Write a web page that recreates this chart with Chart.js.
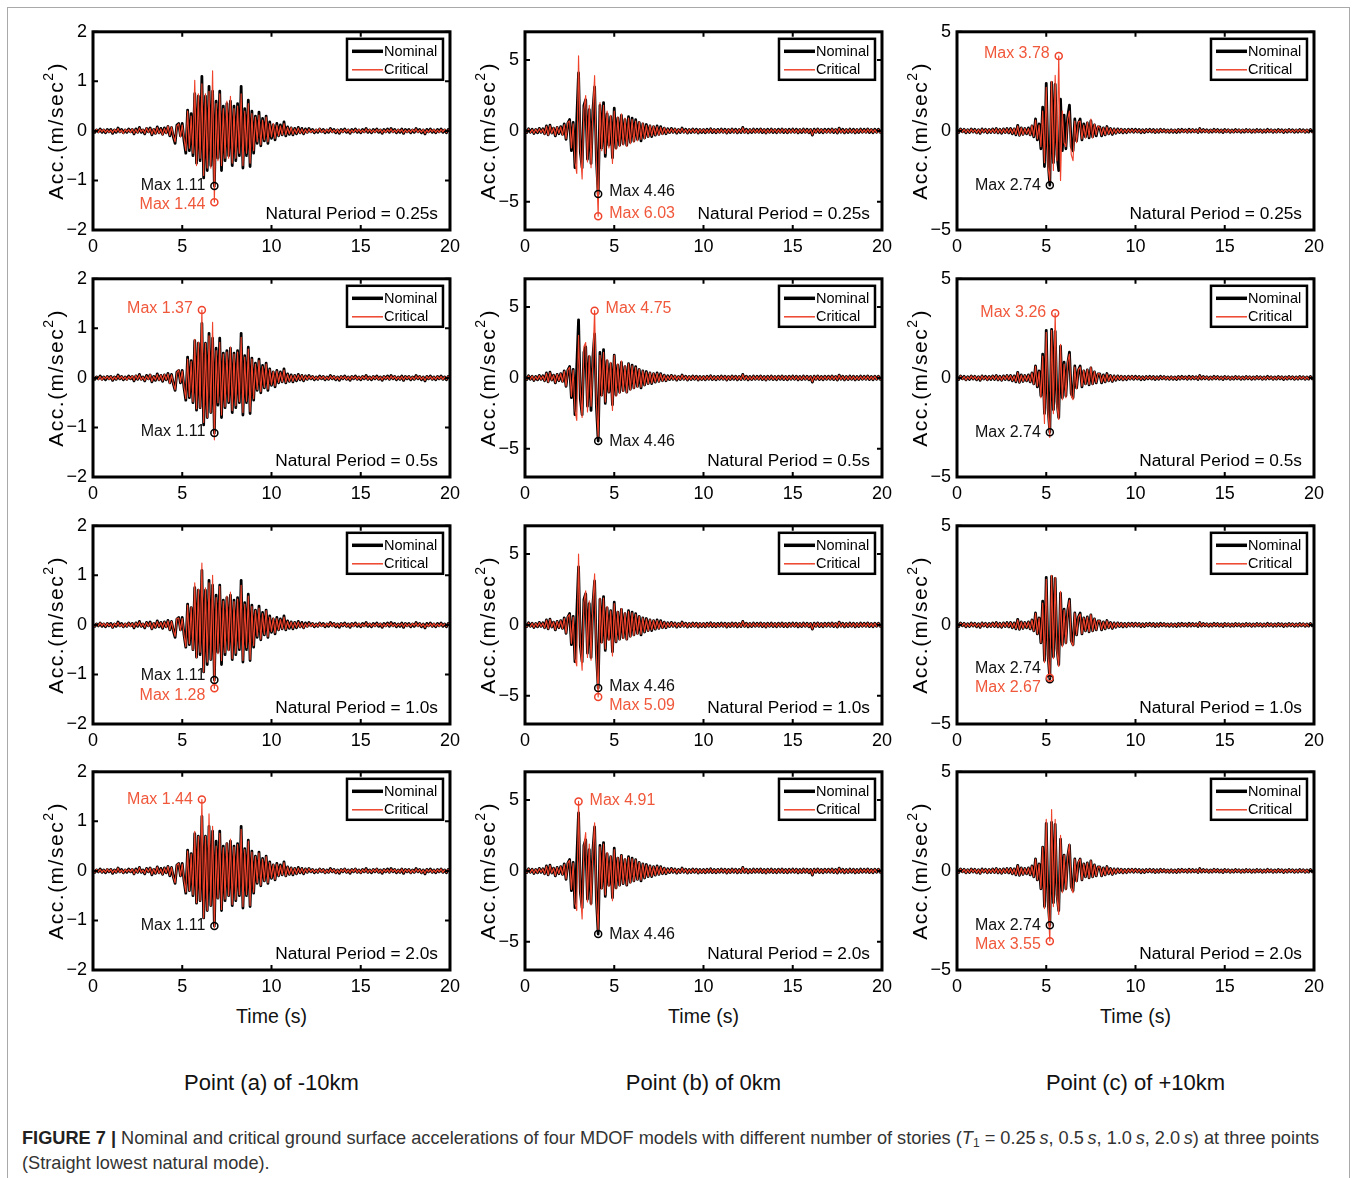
<!DOCTYPE html>
<html>
<head>
<meta charset="utf-8">
<script src="https://cdn.jsdelivr.net/npm/chart.js@4.4.1/dist/chart.umd.min.js"></script>
<style>
  html, body { margin: 0; padding: 0; background: #fff; }
  body { width: 1357px; height: 1178px; position: relative; overflow: hidden;
         font-family: 'Liberation Sans', Arial, sans-serif; color: #111; }
  .frame { position: absolute; left: 7px; top: 7px; width: 1341px; height: 1200px; border: 1px solid #a9a9a9; }
  canvas.panel { position: absolute; }
  .xl { position: absolute; font-size: 19.5px; line-height: 24px; transform: translateX(-50%); white-space: nowrap; }
  .ct { position: absolute; font-size: 22px; line-height: 26px; transform: translateX(-50%); white-space: nowrap; }
  .cap { position: absolute; left: 22px; top: 1126px; font-size: 18.2px; line-height: 25px; color: #333; white-space: nowrap; }
  .cap b { color: #222; }
  .cap sub { font-size: 12px; line-height: 0; vertical-align: -3px; }
</style>
</head>
<body>
<div class="frame"></div>
<div id="root"></div>
<script>
// ------- data (sample step 0.1 s) -------
const DT = 0.1;
const timeTicks = [0, 5, 10, 15, 20];
const accTicks = [[-2, -1, 0, 1, 2], [-5, 0, 5], [-5, 0, 5]];
const accRange = [[-2, 2], [-7, 7], [-5, 5]];
const periods = ['0.25s', '0.5s', '1.0s', '2.0s'];
const points = ['Point (a) of -10km', 'Point (b) of 0km', 'Point (c) of +10km'];

// point (a), nominal
const NOM_A = [
 .01,-.03,.02,-.02,.04,-.03,.02,-.04,.03,-.02,
 .03,-.05,.02,-.03,.06,-.02,.03,-.04,.02,-.03,
 .04,-.02,.03,-.06,.04,-.03,.07,-.03,.02,-.06,
 .05,-.02,.06,-.08,.03,-.05,.08,-.04,.05,-.07,
 .06,-.04,.09,-.1,.07,-.12,-.25,.12,.15,-.1,
 .15,-.2,-.45,.42,-.4,.35,-.5,.75,-.65,.7,
 -.6,1.1,-.95,.7,-.8,.9,-.7,.8,-1.11,.6,
 -.55,.8,-.8,.5,-.6,.55,-.5,.6,-.7,.5,
 -.6,.55,-.5,.9,-.75,.45,-.5,.62,-.72,.4,
 -.45,.3,-.25,.38,-.3,.25,-.2,.3,-.25,.18,
 -.15,.12,-.18,.15,-.1,.12,-.08,.18,-.1,.08,
 -.07,.06,-.08,.05,-.06,.07,-.04,.05,-.06,.04,
 -.03,.05,-.02,.03,-.04,.02,-.03,.04,-.02,.03,
 -.04,.02,-.03,.05,-.02,.03,-.04,.02,-.05,.03,
 -.02,.04,-.03,.02,-.05,.03,-.02,.04,-.03,.02,
 -.04,.03,-.02,.05,-.03,.02,-.04,.03,-.02,.04,
 -.03,.02,-.05,.03,-.02,.04,-.03,.05,-.02,.03,
 -.04,.02,-.03,.04,-.05,.03,-.02,.03,-.04,.02,
 -.03,.05,-.02,.03,-.04,.02,-.06,.03,-.02,.04,
 -.03,.02,-.04,.03,-.02,.04,-.03,.02,-.04,.03,
 .01];

// point (a), critical, T1 = 0.25 / 0.5 / 1.0 / 2.0 s
const CRIT_A1 = [
 .02,-.02,.03,-.03,.03,-.02,.03,-.03,.02,-.03,
 .02,-.04,.03,-.02,.05,-.03,.02,-.05,.03,-.02,
 .03,-.03,.04,-.05,.03,-.04,.06,-.02,.03,-.05,
 .06,-.03,.05,-.07,.04,-.06,.07,-.05,.04,-.08,
 .05,-.05,.1,-.09,.08,-.1,-.22,.1,.14,-.12,
 .12,-.15,-.4,.4,-.35,.3,-.45,1.02,-.7,.75,
 -.55,.95,-.9,.75,-.75,.8,-.75,1.21,-1.44,.55,
 -.6,.75,-.7,.45,-.55,.6,-.55,.7,-.65,.45,
 -.55,.5,-.45,.75,-.7,.4,-.45,.55,-.65,.35,
 -.4,.28,-.22,.32,-.28,.22,-.18,.28,-.22,.15,
 -.12,.15,-.15,.12,-.1,.1,-.08,.15,-.08,.07,
 -.06,.07,-.07,.04,-.05,.06,-.05,.04,-.05,.03,
 -.04,.04,-.03,.02,-.03,.03,-.02,.05,-.03,.02,
 -.03,.03,-.02,.04,-.03,.02,-.03,.03,-.04,.02,
 -.03,.03,-.02,.03,-.04,.02,-.03,.03,-.02,.03,
 -.03,.02,-.03,.04,-.02,.03,-.03,.02,-.03,.03,
 -.02,.03,-.04,.02,-.03,.03,-.02,.04,-.03,.02,
 -.03,.03,-.02,.03,-.04,.02,-.03,.02,-.03,.03,
 -.02,.04,-.03,.02,-.03,.03,-.05,.02,-.03,.03,
 -.02,.03,-.03,.02,-.03,.03,-.02,.03,-.03,.02,
 .01];
const CRIT_A2 = [
 .01,-.02,.02,-.03,.03,-.04,.02,-.02,.03,-.03,
 .03,-.04,.02,-.03,.05,-.02,.03,-.03,.02,-.04,
 .03,-.02,.04,-.05,.05,-.03,.06,-.04,.02,-.05,
 .04,-.03,.07,-.07,.03,-.04,.07,-.05,.06,-.06,
 .07,-.04,.08,-.11,.06,-.11,-.24,.11,.16,-.09,
 .14,-.18,-.42,.38,-.38,.33,-.48,.78,-.62,.72,
 -.6,1.37,-.9,.7,-.8,.85,-.7,1.12,-1.25,.55,
 -.5,.72,-.75,.48,-.58,.52,-.48,.62,-.66,.48,
 -.56,.52,-.48,.82,-.7,.42,-.47,.58,-.68,.38,
 -.42,.28,-.24,.35,-.28,.23,-.19,.28,-.23,.17,
 -.14,.13,-.16,.14,-.09,.11,-.08,.16,-.09,.07,
 -.07,.05,-.07,.05,-.05,.06,-.04,.05,-.05,.04,
 -.03,.04,-.02,.03,-.03,.02,-.03,.03,-.02,.03,
 -.03,.02,-.03,.04,-.02,.03,-.03,.02,-.04,.03,
 -.02,.03,-.03,.02,-.04,.03,-.02,.03,-.03,.02,
 -.03,.03,-.02,.04,-.03,.02,-.03,.03,-.02,.03,
 -.03,.02,-.04,.03,-.02,.03,-.03,.04,-.02,.03,
 -.03,.02,-.03,.03,-.04,.03,-.02,.03,-.03,.02,
 -.03,.04,-.02,.03,-.03,.02,-.05,.03,-.02,.03,
 -.03,.02,-.03,.03,-.02,.03,-.03,.02,-.03,.03,
 .01];
const CRIT_A3 = [
 .02,-.03,.02,-.02,.04,-.02,.03,-.03,.03,-.02,
 .02,-.05,.03,-.02,.05,-.03,.02,-.04,.03,-.03,
 .04,-.03,.03,-.05,.04,-.02,.06,-.03,.03,-.05,
 .05,-.03,.05,-.08,.04,-.05,.07,-.04,.05,-.06,
 .06,-.05,.08,-.1,.07,-.1,-.23,.13,.14,-.11,
 .13,-.2,-.44,.4,-.38,.36,-.5,.85,-.66,.72,
 -.55,1.25,-.95,.75,-.75,.85,-.7,1.0,-1.28,.55,
 -.58,.78,-.72,.48,-.56,.58,-.52,.66,-.68,.47,
 -.57,.52,-.47,.8,-.72,.42,-.46,.58,-.7,.37,
 -.42,.29,-.23,.34,-.29,.23,-.19,.29,-.24,.16,
 -.13,.14,-.16,.13,-.1,.11,-.08,.16,-.09,.07,
 -.06,.06,-.07,.05,-.05,.06,-.05,.04,-.06,.03,
 -.04,.04,-.03,.03,-.03,.02,-.03,.04,-.03,.02,
 -.03,.03,-.02,.04,-.03,.03,-.03,.02,-.04,.03,
 -.02,.03,-.03,.02,-.04,.03,-.03,.03,-.02,.03,
 -.03,.02,-.03,.04,-.02,.03,-.03,.02,-.03,.03,
 -.02,.03,-.04,.02,-.03,.03,-.02,.04,-.03,.02,
 -.03,.02,-.02,.03,-.04,.03,-.03,.02,-.03,.03,
 -.02,.04,-.03,.03,-.03,.02,-.05,.02,-.03,.03,
 -.03,.03,-.03,.02,-.03,.03,-.02,.02,-.03,.02,
 .01];
const CRIT_A4 = [
 .01,-.03,.03,-.02,.03,-.03,.02,-.03,.04,-.02,
 .03,-.04,.02,-.03,.06,-.03,.02,-.04,.03,-.02,
 .03,-.02,.04,-.06,.03,-.03,.07,-.03,.02,-.05,
 .05,-.02,.06,-.07,.04,-.05,.08,-.05,.04,-.07,
 .06,-.04,.09,-.09,.07,-.12,-.24,.12,.15,-.1,
 .14,-.19,-.43,.4,-.4,.34,-.48,.8,-.64,.7,
 -.6,1.44,-.95,.7,-.8,1.15,-.7,.9,-1.15,.5,
 -.55,.76,-.78,.47,-.57,.56,-.5,.64,-.68,.48,
 -.58,.53,-.48,.84,-.72,.43,-.48,.6,-.7,.38,
 -.43,.29,-.24,.36,-.29,.24,-.2,.29,-.24,.17,
 -.14,.13,-.17,.14,-.1,.11,-.08,.17,-.1,.08,
 -.07,.06,-.07,.05,-.06,.06,-.04,.05,-.05,.04,
 -.03,.05,-.02,.03,-.03,.02,-.03,.04,-.02,.03,
 -.04,.02,-.03,.04,-.02,.03,-.04,.02,-.04,.03,
 -.02,.04,-.03,.02,-.04,.03,-.02,.04,-.03,.02,
 -.04,.03,-.02,.04,-.03,.02,-.03,.03,-.02,.04,
 -.03,.02,-.04,.03,-.02,.03,-.03,.04,-.02,.03,
 -.03,.02,-.03,.04,-.04,.03,-.02,.03,-.04,.02,
 -.03,.04,-.02,.03,-.04,.02,-.05,.03,-.02,.03,
 -.03,.02,-.03,.03,-.02,.04,-.03,.02,-.03,.03,
 .01];

// point (b), nominal
const NOM_B = [
 .08,-.12,.15,-.1,.12,-.18,.1,-.14,.18,-.1,
 .15,-.2,.35,-.28,.4,-.15,.2,-.35,.25,-.2,
 .3,-.25,.5,-.6,.55,.8,-1.4,.6,-2.6,.8,
 4.1,-1.5,-2.6,1.8,2.2,-2,1.5,-2.3,1.4,3.1,
 -2,-4.46,1.8,-1.2,2,-1.8,1.2,-1,1,-1.9,
 1.6,-1.2,.9,-1,1.1,-.9,.8,-1,1,-.8,
 .9,-.7,.8,-.6,.6,-.7,.5,-.5,.45,-.4,
 .35,-.4,.3,-.3,.35,-.25,.3,-.2,.2,-.2,
 .15,-.12,.18,-.1,.14,-.16,.1,-.12,.2,-.1,
 .12,-.15,.1,-.12,.14,-.1,.12,-.15,.1,-.12,
 .1,-.14,.12,-.1,.15,-.12,.1,-.13,.11,-.1,
 .13,-.1,.12,-.15,.1,-.12,.14,-.1,.12,-.14,
 .1,-.12,.25,-.1,.12,-.14,.1,-.12,.13,-.1,
 .12,-.1,.14,-.12,.1,-.15,.12,-.1,.13,-.12,
 .1,-.13,.12,-.1,.14,-.12,.1,-.14,.12,-.1,
 .13,-.1,.12,-.14,.1,-.12,.13,-.1,.12,-.13,
 .1,-.3,.12,-.1,.14,-.12,.1,-.13,.12,-.1,
 .12,-.1,.14,-.12,.1,-.15,.2,-.1,.12,-.14,
 .1,-.12,.13,-.1,.12,-.14,.1,-.12,.13,-.1,
 .12,-.1,.14,-.12,.1,-.13,.12,-.1,.12,-.1,
 .05];

// point (b), critical
const CRIT_B1 = [
 .1,-.1,.14,-.12,.1,-.16,.12,-.12,.16,-.12,
 .13,-.22,.32,-.3,.38,-.18,.22,-.32,.28,-.18,
 .28,-.3,.45,-.55,.6,.7,-1.2,.5,-2.2,-3,
 5.3,-1.2,-3.4,1.5,2.5,-2.2,1.8,-2.6,1.2,3.9,
 -2.2,-6.03,2,-1.4,1.8,-1.6,1.4,-1.2,1.1,-2.3,
 1.4,-1.3,1,-1.1,1.2,-1,.9,-1.1,.9,-.9,
 .8,-.8,.7,-.7,.65,-.6,.55,-.55,.4,-.45,
 .4,-.35,.35,-.3,.3,-.3,.25,-.25,.22,-.18,
 .14,-.14,.16,-.12,.15,-.14,.12,-.1,.18,-.12,
 .1,-.14,.12,-.1,.13,-.12,.1,-.14,.12,-.1,
 .12,-.12,.1,-.12,.14,-.1,.12,-.12,.1,-.12,
 .12,-.12,.1,-.14,.12,-.1,.13,-.12,.1,-.13,
 .12,-.1,.22,-.12,.1,-.13,.12,-.1,.12,-.12,
 .1,-.12,.13,-.1,.12,-.14,.1,-.12,.12,-.1,
 .12,-.12,.1,-.12,.13,-.1,.12,-.13,.1,-.12,
 .12,-.12,.1,-.13,.12,-.1,.12,-.12,.1,-.12,
 .12,-.28,.1,-.12,.13,-.1,.12,-.12,.1,-.12,
 .1,-.12,.13,-.1,.12,-.14,.18,-.12,.1,-.13,
 .12,-.1,.12,-.12,.1,-.13,.12,-.1,.12,-.12,
 .1,-.12,.13,-.1,.12,-.12,.1,-.12,.1,-.12,
 .04];
const CRIT_B2 = [
 .1,-.12,.14,-.1,.13,-.16,.1,-.13,.17,-.12,
 .14,-.2,.33,-.3,.38,-.16,.2,-.33,.26,-.2,
 .3,-.28,.48,-.58,.56,.75,-1.3,.55,-2.3,-3,
 3,-1,-2.8,2.2,2.5,-2.4,1.6,-2,1,4.75,
 -1.8,-4.2,1.6,-1.3,1.8,-1.7,1.3,-1,1.1,-2.3,
 1.6,-1.3,1,-1.1,1.2,-.95,.85,-1.05,1,-.85,
 .85,-.75,.75,-.65,.62,-.65,.5,-.52,.42,-.42,
 .38,-.38,.32,-.3,.32,-.28,.28,-.22,.2,-.2,
 .14,-.13,.17,-.11,.15,-.15,.11,-.12,.19,-.11,
 .11,-.14,.11,-.12,.13,-.11,.12,-.14,.1,-.12,
 .11,-.13,.12,-.11,.14,-.12,.1,-.12,.11,-.11,
 .12,-.11,.12,-.14,.11,-.12,.13,-.1,.12,-.13,
 .11,-.12,.23,-.11,.12,-.13,.1,-.12,.12,-.11,
 .11,-.11,.13,-.12,.1,-.14,.12,-.11,.12,-.12,
 .11,-.12,.12,-.1,.13,-.12,.11,-.13,.12,-.11,
 .12,-.11,.12,-.13,.1,-.12,.12,-.11,.12,-.12,
 .11,-.27,.12,-.11,.13,-.12,.1,-.12,.12,-.11,
 .11,-.11,.13,-.12,.11,-.14,.19,-.11,.12,-.13,
 .11,-.12,.12,-.11,.12,-.13,.1,-.12,.12,-.11,
 .11,-.11,.13,-.12,.1,-.12,.12,-.11,.11,-.11,
 .04];
const CRIT_B3 = [
 .09,-.13,.14,-.11,.12,-.17,.11,-.13,.17,-.11,
 .14,-.21,.34,-.29,.39,-.16,.21,-.34,.26,-.19,
 .3,-.26,.46,-.58,.58,.72,-1.3,.55,-2.4,-2.9,
 5,-1.3,-3.2,1.6,2.4,-2.3,1.7,-2.5,1.3,3.6,
 -2.1,-5.09,1.9,-1.3,1.9,-1.7,1.3,-1.1,1,-2.2,
 1.5,-1.2,.95,-1.05,1.15,-.95,.85,-1.05,.95,-.85,
 .85,-.75,.75,-.65,.6,-.65,.5,-.5,.42,-.42,
 .38,-.36,.32,-.3,.32,-.27,.27,-.22,.2,-.19,
 .15,-.13,.17,-.11,.14,-.15,.11,-.11,.19,-.11,
 .11,-.14,.11,-.11,.13,-.11,.11,-.14,.11,-.11,
 .11,-.13,.11,-.11,.14,-.11,.11,-.13,.1,-.11,
 .12,-.11,.11,-.14,.11,-.11,.13,-.11,.11,-.13,
 .11,-.11,.24,-.11,.11,-.13,.11,-.11,.12,-.11,
 .11,-.11,.13,-.11,.11,-.14,.11,-.11,.12,-.11,
 .11,-.12,.11,-.11,.13,-.11,.11,-.13,.11,-.11,
 .12,-.11,.11,-.13,.11,-.11,.12,-.11,.11,-.12,
 .11,-.29,.11,-.11,.13,-.11,.11,-.12,.11,-.11,
 .11,-.11,.13,-.11,.11,-.14,.19,-.11,.11,-.13,
 .11,-.11,.12,-.11,.11,-.13,.11,-.11,.12,-.11,
 .11,-.11,.13,-.11,.11,-.12,.11,-.11,.11,-.11,
 .04];
const CRIT_B4 = [
 .09,-.12,.15,-.11,.12,-.16,.11,-.14,.17,-.1,
 .15,-.21,.33,-.28,.39,-.16,.2,-.34,.25,-.2,
 .3,-.27,.47,-.56,.57,.74,-1.3,.56,-2.3,-2.8,
 4.91,-1.4,-3.4,1.7,2.7,-2.2,1.9,-2.4,1.2,3.4,
 -2,-4.2,1.7,-1.3,1.9,-1.7,1.3,-1.1,1.05,-2.1,
 1.5,-1.25,.95,-1.05,1.1,-.9,.85,-1,.95,-.85,
 .85,-.72,.78,-.62,.6,-.66,.5,-.5,.42,-.4,
 .36,-.38,.3,-.3,.33,-.26,.28,-.2,.2,-.18,
 .14,-.12,.17,-.1,.14,-.15,.1,-.12,.19,-.1,
 .12,-.14,.1,-.12,.13,-.1,.12,-.14,.1,-.12,
 .1,-.13,.12,-.1,.14,-.12,.1,-.12,.11,-.1,
 .12,-.1,.12,-.14,.1,-.12,.13,-.1,.12,-.13,
 .1,-.12,.24,-.1,.12,-.13,.1,-.12,.12,-.1,
 .12,-.1,.13,-.12,.1,-.14,.12,-.1,.12,-.12,
 .1,-.12,.12,-.1,.13,-.12,.1,-.13,.12,-.1,
 .12,-.1,.12,-.13,.1,-.12,.12,-.1,.12,-.12,
 .1,-.28,.12,-.1,.13,-.12,.1,-.12,.12,-.1,
 .12,-.1,.13,-.12,.1,-.14,.19,-.1,.12,-.13,
 .1,-.12,.12,-.1,.12,-.13,.1,-.12,.12,-.1,
 .12,-.1,.13,-.12,.1,-.12,.12,-.1,.12,-.1,
 .04];

// point (c), nominal
const NOM_C = [
 .05,-.08,.1,-.05,.08,-.1,.06,-.08,.1,-.06,
 .08,-.1,.06,-.12,.1,-.06,.08,-.1,.07,-.08,
 .1,-.08,.12,-.1,.08,-.12,.1,-.08,.12,-.1,
 .12,-.15,.1,-.2,.28,-.22,.15,-.18,.12,-.15,
 .15,-.2,.25,-.3,.6,-.45,.35,-.9,1.2,-1.8,
 2.4,-1.5,-2.74,2.45,-1.6,2.35,-1.2,-2,1.6,-1,
 .8,-.9,.7,1.3,-.8,-1,.6,-.5,.4,.6,
 -.45,.35,-.3,.4,-.35,.5,-.3,.3,-.25,.2,
 .2,-.25,.15,-.2,.22,-.15,.12,-.18,.1,-.12,
 .1,-.08,.09,-.1,.07,-.09,.08,-.06,.09,-.07,
 .08,-.06,.07,-.09,.06,-.08,.07,-.05,.08,-.06,
 .07,-.08,.06,-.07,.08,-.05,.07,-.06,.05,-.07,
 .06,-.07,.05,-.08,.07,-.06,.08,-.05,.06,-.07,
 .08,-.06,.07,-.05,.06,-.08,.12,-.06,.07,-.05,
 .06,-.07,.05,-.06,.08,-.05,.07,-.06,.05,-.08,
 .07,-.05,.06,-.07,.05,-.06,.07,-.05,.06,-.07,
 .05,-.06,.07,-.05,.06,-.07,.05,-.06,.07,-.05,
 .06,-.07,.05,-.06,.08,-.05,.06,-.07,.05,-.06,
 .07,-.05,.06,-.08,.05,-.06,.07,-.05,.06,-.07,
 .05,-.06,.07,-.05,.06,-.07,.05,-.06,.07,-.05,
 .03];

// point (c), critical
const CRIT_C1 = [
 .06,-.07,.09,-.06,.08,-.09,.07,-.08,.09,-.07,
 .07,-.1,.07,-.11,.09,-.07,.08,-.09,.08,-.08,
 .09,-.09,.11,-.1,.09,-.11,.1,-.09,.11,-.1,
 .11,-.14,.12,-.18,.25,-.24,.16,-.2,.13,-.14,
 .12,-.22,.28,-.28,.55,-.4,.3,-.8,1,-1.6,
 2.2,-1.8,-2.5,2.5,-2,2.8,-1.5,3.78,-2.5,1,
 -.6,-.8,.6,1,-1.2,-1.5,.5,-.6,.45,.5,
 -.4,.3,-.35,.45,-.3,.6,-.35,.35,-.2,.25,
 .18,-.22,.16,-.2,.2,-.16,.12,-.16,.1,-.12,
 .09,-.08,.1,-.09,.07,-.08,.08,-.07,.08,-.07,
 .07,-.07,.06,-.08,.06,-.07,.07,-.05,.07,-.06,
 .06,-.08,.07,-.06,.08,-.05,.06,-.07,.05,-.06,
 .05,-.06,.06,-.07,.07,-.05,.07,-.06,.06,-.08,
 .07,-.05,.08,-.06,.05,-.07,.11,-.05,.06,-.06,
 .05,-.08,.06,-.05,.07,-.06,.06,-.07,.06,-.07,
 .06,-.06,.07,-.06,.05,-.07,.06,-.05,.07,-.06,
 .06,-.05,.06,-.06,.07,-.06,.05,-.07,.06,-.05,
 .05,-.07,.06,-.05,.07,-.06,.06,-.06,.05,-.07,
 .06,-.06,.05,-.07,.06,-.05,.07,-.06,.05,-.06,
 .07,-.05,.06,-.06,.05,-.07,.06,-.05,.06,-.06,
 .02];
const CRIT_C2 = [
 .05,-.07,.1,-.06,.07,-.1,.06,-.07,.1,-.06,
 .08,-.09,.06,-.11,.1,-.07,.07,-.1,.07,-.07,
 .1,-.08,.11,-.1,.08,-.12,.09,-.08,.12,-.09,
 .12,-.14,.1,-.19,.27,-.23,.14,-.18,.13,-.15,
 .14,-.2,.26,-.32,.58,-.42,.32,-1,1.1,-2.3,
 2.3,-1.7,-3,2.4,-1.8,3.26,-1.4,-2.1,1.7,-1.1,
 .7,-1,.8,1.2,-.9,-1.1,.55,-.55,.42,.55,
 -.42,.38,-.32,.42,-.33,.55,-.32,.32,-.24,.22,
 .2,-.23,.14,-.2,.2,-.16,.12,-.17,.1,-.11,
 .1,-.08,.09,-.1,.07,-.08,.08,-.07,.09,-.07,
 .07,-.06,.07,-.08,.06,-.07,.07,-.05,.07,-.06,
 .07,-.07,.06,-.07,.07,-.05,.07,-.06,.05,-.07,
 .06,-.06,.05,-.07,.07,-.06,.07,-.05,.06,-.07,
 .07,-.06,.07,-.05,.06,-.07,.11,-.06,.07,-.05,
 .06,-.07,.05,-.06,.07,-.05,.07,-.06,.05,-.07,
 .07,-.05,.06,-.07,.05,-.06,.07,-.05,.06,-.06,
 .05,-.06,.07,-.05,.06,-.06,.05,-.06,.07,-.05,
 .06,-.07,.05,-.06,.07,-.05,.06,-.07,.05,-.06,
 .07,-.05,.06,-.07,.05,-.06,.07,-.05,.06,-.07,
 .05,-.06,.07,-.05,.06,-.07,.05,-.06,.06,-.05,
 .03];
const CRIT_C3 = [
 .06,-.08,.09,-.05,.08,-.09,.06,-.08,.09,-.06,
 .08,-.09,.06,-.11,.1,-.06,.08,-.09,.07,-.08,
 .09,-.08,.11,-.1,.08,-.11,.1,-.08,.11,-.1,
 .12,-.14,.1,-.19,.26,-.22,.15,-.18,.12,-.14,
 .15,-.2,.25,-.3,.58,-.45,.35,-.9,1.1,-1.9,
 2.3,-1.6,-2.67,2.5,-1.7,2.4,-1.3,-2.1,1.7,-1.1,
 .75,-.95,.7,1.25,-.85,-1.05,.6,-.5,.4,.55,
 -.44,.36,-.3,.4,-.34,.52,-.3,.31,-.25,.21,
 .2,-.24,.15,-.2,.21,-.15,.12,-.17,.1,-.12,
 .1,-.08,.09,-.09,.07,-.09,.08,-.06,.08,-.07,
 .08,-.06,.07,-.08,.06,-.08,.07,-.05,.07,-.06,
 .07,-.07,.06,-.07,.07,-.05,.07,-.06,.05,-.06,
 .06,-.07,.05,-.07,.07,-.06,.07,-.05,.06,-.07,
 .07,-.06,.07,-.05,.06,-.07,.12,-.06,.06,-.05,
 .06,-.06,.05,-.06,.07,-.05,.07,-.06,.05,-.07,
 .07,-.05,.06,-.06,.05,-.06,.07,-.05,.06,-.07,
 .05,-.06,.06,-.05,.06,-.07,.05,-.06,.06,-.05,
 .06,-.06,.05,-.06,.07,-.05,.06,-.06,.05,-.06,
 .06,-.05,.06,-.07,.05,-.06,.06,-.05,.06,-.06,
 .05,-.06,.06,-.05,.06,-.06,.05,-.06,.06,-.05,
 .03];
const CRIT_C4 = [
 .05,-.07,.1,-.06,.08,-.1,.07,-.08,.1,-.07,
 .08,-.1,.07,-.12,.09,-.06,.08,-.1,.08,-.08,
 .1,-.09,.12,-.1,.09,-.12,.1,-.09,.12,-.1,
 .12,-.15,.11,-.2,.27,-.22,.15,-.19,.12,-.15,
 .15,-.2,.25,-.3,.6,-.45,.35,-.9,1.2,-1.9,
 2.6,-1.6,-3.55,3.1,-1.8,2.6,-1.3,-2.2,1.8,-1.1,
 .8,-.95,.7,1.35,-.85,-1.1,.6,-.55,.45,.6,
 -.45,.36,-.31,.41,-.35,.52,-.31,.31,-.25,.21,
 .2,-.25,.15,-.21,.22,-.15,.12,-.18,.1,-.12,
 .1,-.08,.09,-.1,.07,-.09,.08,-.06,.09,-.07,
 .08,-.07,.07,-.08,.06,-.08,.07,-.05,.08,-.06,
 .07,-.08,.06,-.07,.08,-.05,.07,-.06,.05,-.07,
 .06,-.07,.05,-.08,.07,-.06,.08,-.05,.06,-.07,
 .08,-.06,.07,-.05,.06,-.08,.11,-.06,.07,-.05,
 .06,-.07,.05,-.06,.08,-.05,.07,-.06,.05,-.08,
 .07,-.05,.06,-.07,.05,-.06,.07,-.05,.06,-.07,
 .05,-.06,.07,-.05,.06,-.07,.05,-.06,.07,-.05,
 .06,-.07,.05,-.06,.08,-.05,.06,-.07,.05,-.06,
 .07,-.05,.06,-.08,.05,-.06,.07,-.05,.06,-.07,
 .05,-.06,.07,-.05,.06,-.07,.05,-.06,.07,-.05,
 .03];

const nominal = [NOM_A, NOM_B, NOM_C];
const critical = [
  [CRIT_A1, CRIT_A2, CRIT_A3, CRIT_A4],
  [CRIT_B1, CRIT_B2, CRIT_B3, CRIT_B4],
  [CRIT_C1, CRIT_C2, CRIT_C3, CRIT_C4],
];

// ------- layout / style -------
const FONT = "'Liberation Sans', Arial, sans-serif";
const RED = '#ef432c';
const RED_TXT = '#f0583b';
const COL_LEFT = [93, 525, 957];
const ROW_TOP = [31, 278, 524.5, 771];
const PW = 357, PH = 199;
const AX_W = 56, AX_H = 30, PAD_T = 16, PAD_R = 16;
const labelSide = ['L', 'R', 'L'];
// vertical nudges of the "Max" labels: [row][col] = [nominal, critical]
const labelNudge = [
  [[0, 2], [-2, -3], [0, -2]],
  [[-1, -1], [1, -2], [0, -1]],
  [[-4, 7], [-1, 9], [-11, 10]],
  [[0, 0], [1, -1], [0, 3]],
];

Chart.defaults.font.family = FONT;
Chart.defaults.color = '#000';

const fmt = v => (v < 0 ? '\u2212' + Math.abs(v) : String(v));
const toXY = arr => arr.map((v, i) => ({ x: i * DT, y: v }));
function peak(arr) {
  let k = 0;
  arr.forEach((v, i) => { if (Math.abs(v) > Math.abs(arr[k])) k = i; });
  return k;
}

function decoPlugin(r, c) {
  return {
    id: 'deco',
    afterDraw(chart) {
      const { ctx, chartArea: a, scales: { x, y } } = chart;
      ctx.save();

      // inward ticks on all four sides
      ctx.strokeStyle = '#000';
      ctx.lineWidth = 2;
      ctx.beginPath();
      timeTicks.forEach(v => {
        const px = x.getPixelForValue(v);
        ctx.moveTo(px, a.bottom); ctx.lineTo(px, a.bottom - 5);
        ctx.moveTo(px, a.top); ctx.lineTo(px, a.top + 5);
      });
      accTicks[c].forEach(v => {
        const py = y.getPixelForValue(v);
        ctx.moveTo(a.left, py); ctx.lineTo(a.left + 5, py);
        ctx.moveTo(a.right, py); ctx.lineTo(a.right - 5, py);
      });
      ctx.stroke();

      // box
      ctx.lineWidth = 3;
      ctx.strokeRect(a.left, a.top, a.width, a.height);

      // legend
      const bl = a.right - 103, bt = a.top + 7;
      ctx.fillStyle = '#fff';
      ctx.fillRect(bl, bt, 96, 41);
      ctx.lineWidth = 2.5;
      ctx.strokeRect(bl, bt, 96, 41);
      ctx.beginPath();
      ctx.lineWidth = 3.5; ctx.strokeStyle = '#000';
      ctx.moveTo(bl + 5, bt + 12.5); ctx.lineTo(bl + 36, bt + 12.5);
      ctx.stroke();
      ctx.beginPath();
      ctx.lineWidth = 1.5; ctx.strokeStyle = RED;
      ctx.moveTo(bl + 5, bt + 31); ctx.lineTo(bl + 36, bt + 31);
      ctx.stroke();
      ctx.fillStyle = '#000';
      ctx.font = '14.5px ' + FONT;
      ctx.textAlign = 'left'; ctx.textBaseline = 'middle';
      ctx.fillText('Nominal', bl + 37, bt + 13);
      ctx.fillText('Critical', bl + 37, bt + 31);

      // natural period
      ctx.font = '17.3px ' + FONT;
      ctx.textAlign = 'right';
      ctx.fillText('Natural Period = ' + periods[r], a.right - 12, a.top + 182);

      // max markers + labels
      const series = [[nominal[c], '#000', '#111'], [critical[c][r], RED, RED_TXT]];
      series.forEach(([arr, col, tcol], s) => {
        const k = peak(arr);
        const px = x.getPixelForValue(k * DT), py = y.getPixelForValue(arr[k]);
        ctx.beginPath();
        ctx.lineWidth = 1.5; ctx.strokeStyle = col;
        ctx.arc(px, py, 3.5, 0, Math.PI * 2);
        ctx.stroke();
        ctx.fillStyle = tcol;
        ctx.font = '16px ' + FONT;
        const txt = 'Max ' + Math.abs(arr[k]).toFixed(2);
        const ty = py + labelNudge[r][c][s];
        if (labelSide[c] === 'L') { ctx.textAlign = 'right'; ctx.fillText(txt, px - 9, ty); }
        else { ctx.textAlign = 'left'; ctx.fillText(txt, px + 11, ty); }
      });

      // y title with superscript
      ctx.fillStyle = '#000';
      ctx.translate(a.left - 36, (a.top + a.bottom) / 2);
      ctx.rotate(-Math.PI / 2);
      ctx.textBaseline = 'middle'; ctx.textAlign = 'left';
      ctx.font = '21px ' + FONT;
      if ('letterSpacing' in ctx) ctx.letterSpacing = '1.5px';
      const m1 = 'Acc.(m/sec', m3 = ')';
      const w1 = ctx.measureText(m1).width, w3 = ctx.measureText(m3).width;
      ctx.font = '14px ' + FONT;
      const w2 = ctx.measureText('2').width + 1;
      const x0 = -(w1 + w2 + w3) / 2;
      ctx.fillText('2', x0 + w1, -8);
      ctx.font = '21px ' + FONT;
      ctx.fillText(m1, x0, 0);
      ctx.fillText(m3, x0 + w1 + w2, 0);

      ctx.restore();
    }
  };
}

function makePanel(r, c) {
  const cv = document.createElement('canvas');
  cv.className = 'panel';
  const W = AX_W + PW + PAD_R, H = PAD_T + PH + AX_H;
  cv.width = W; cv.height = H;
  cv.style.left = (COL_LEFT[c] - AX_W) + 'px';
  cv.style.top = (ROW_TOP[r] - PAD_T) + 'px';
  cv.style.width = W + 'px'; cv.style.height = H + 'px';
  document.getElementById('root').appendChild(cv);

  new Chart(cv, {
    type: 'line',
    data: {
      datasets: [
        { label: 'Nominal', data: toXY(nominal[c]), borderColor: '#000', borderWidth: 2.8,
          pointRadius: 0, borderJoinStyle: 'round', order: 1 },
        { label: 'Critical', data: toXY(critical[c][r]), borderColor: RED, borderWidth: 1.15,
          pointRadius: 0, borderJoinStyle: 'round', order: 0 },
      ]
    },
    options: {
      responsive: false, animation: false, events: [],
      layout: { padding: { top: PAD_T, right: PAD_R, left: 0, bottom: 0 } },
      plugins: { legend: { display: false }, tooltip: { enabled: false } },
      scales: {
        x: {
          type: 'linear', min: 0, max: 20,
          afterBuildTicks: s => { s.ticks = timeTicks.map(v => ({ value: v })); },
          afterFit: s => { s.height = AX_H; },
          grid: { display: false, drawTicks: false }, border: { display: false },
          ticks: { padding: 6, font: { size: 18 }, color: '#000', maxRotation: 0, autoSkip: false, callback: fmt }
        },
        y: {
          type: 'linear', min: accRange[c][0], max: accRange[c][1],
          afterBuildTicks: s => { s.ticks = accTicks[c].map(v => ({ value: v })); },
          afterFit: s => { s.width = AX_W; },
          grid: { display: false, drawTicks: false }, border: { display: false },
          ticks: { padding: 6, font: { size: 18 }, color: '#000', autoSkip: false, callback: fmt }
        }
      }
    },
    plugins: [decoPlugin(r, c)]
  });
}

for (let r = 0; r < 4; r++) for (let c = 0; c < 3; c++) makePanel(r, c);

// text under the grid
const root = document.getElementById('root');
COL_LEFT.forEach((L, c) => {
  const cx = L + PW / 2;
  const t = document.createElement('div');
  t.className = 'xl'; t.textContent = 'Time (s)';
  t.style.left = cx + 'px'; t.style.top = '1004px';
  root.appendChild(t);
  const p = document.createElement('div');
  p.className = 'ct'; p.textContent = points[c];
  p.style.left = cx + 'px'; p.style.top = '1070px';
  root.appendChild(p);
});
</script>
<div class="cap"><b>FIGURE 7 |</b> Nominal and critical ground surface accelerations of four MDOF models with different number of stories (<i>T</i><sub>1</sub> = 0.25&thinsp;<i>s</i>, 0.5&thinsp;<i>s</i>, 1.0&thinsp;<i>s</i>, 2.0&thinsp;<i>s</i>) at three points<br>(Straight lowest natural mode).</div>
</body>
</html>
